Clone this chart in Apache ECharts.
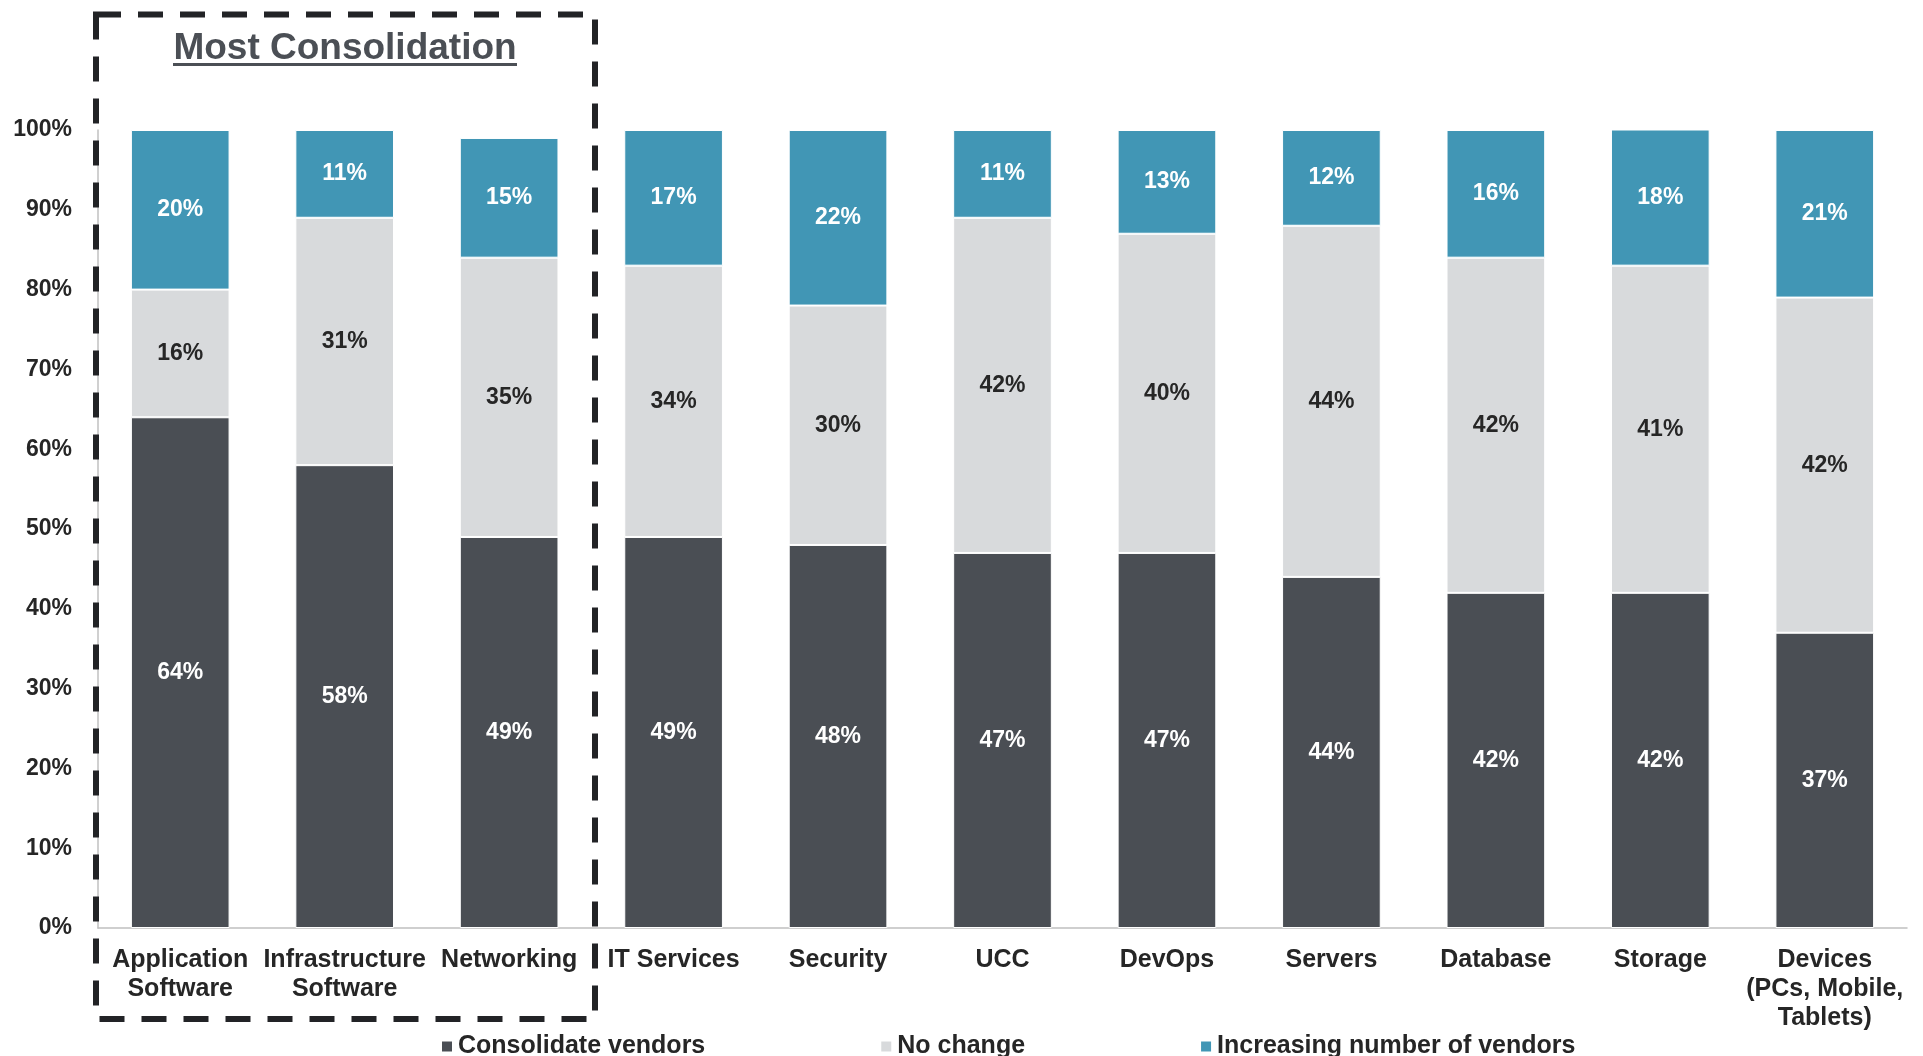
<!DOCTYPE html>
<html>
<head>
<meta charset="utf-8">
<title>Vendor consolidation by category</title>
<script src="https://cdn.jsdelivr.net/npm/echarts@6/dist/echarts.min.js"></script>
<style>
  html, body { margin: 0; padding: 0; background: #ffffff; }
  #chart { width: 1923px; height: 1056px; }
</style>
</head>
<body>
<div id="chart"></div>
<script>
// Spending categories (x axis)
const categories = [
  'Application\nSoftware', 'Infrastructure\nSoftware', 'Networking', 'IT Services',
  'Security', 'UCC', 'DevOps', 'Servers', 'Database', 'Storage',
  'Devices\n(PCs, Mobile,\nTablets)'
];

// Share of respondents (%) per plan
const consolidateVendors = [64, 58, 49, 49, 48, 47, 47, 44, 42, 42, 37];
const noChange           = [16, 31, 35, 34, 30, 42, 40, 44, 42, 41, 42];
const increasingVendors  = [20, 11, 15, 17, 22, 11, 13, 12, 16, 18, 21];

const seriesNames = ['Consolidate vendors', 'No change', 'Increasing number of vendors'];
const titleText = 'Most Consolidation';

const FONT = '"Liberation Sans", Arial, sans-serif';
const DARK = '#4a4e54';
const LIGHT = '#d8dadc';
const BLUE = '#4196b5';
const INK = '#262626';

const chart = echarts.init(document.getElementById('chart'), null, { renderer: 'canvas' });

function barSeries(name, data, color, labelColor) {
  return {
    name: name,
    type: 'bar',
    stack: 'total',
    data: data,
    barCategoryGap: '40%',
    itemStyle: { color: color, borderColor: '#ffffff', borderWidth: 1 },
    label: {
      show: true,
      position: 'inside',
      formatter: '{c}%',
      color: labelColor,
      fontFamily: FONT,
      fontWeight: 'bold',
      fontSize: 23
    },
    emphasis: { disabled: true }
  };
}

chart.setOption({
  animation: false,
  backgroundColor: '#ffffff',
  grid: { left: 98, right: 16, top: 130, bottom: 128, containLabel: false },
  xAxis: {
    type: 'category',
    data: categories,
    axisLine: { show: true, lineStyle: { color: '#c0c0c0', width: 1.5 } },
    axisTick: { show: false },
    axisLabel: {
      interval: 0,
      margin: 18,
      color: INK,
      fontFamily: FONT,
      fontWeight: 'bold',
      fontSize: 25,
      lineHeight: 29
    }
  },
  yAxis: {
    type: 'value',
    min: 0,
    max: 100,
    interval: 10,
    axisLine: { show: true, lineStyle: { color: '#c0c0c0', width: 1.5 } },
    axisTick: { show: false },
    splitLine: { show: false },
    axisLabel: {
      formatter: '{value}%',
      margin: 26,
      color: INK,
      fontFamily: FONT,
      fontWeight: 'bold',
      fontSize: 23
    }
  },
  legend: {
    data: seriesNames,
    left: 440,
    top: 1034,
    padding: 0,
    itemGap: 174,
    itemWidth: 12,
    itemHeight: 12,
    icon: 'rect',
    textStyle: {
      color: INK,
      fontFamily: FONT,
      fontWeight: 'bold',
      fontSize: 25,
      lineHeight: 25,
      padding: [0, 0, 0, 0]
    }
  },
  graphic: [
    {
      // dashed frame around the first three categories
      type: 'rect',
      shape: { x: 96, y: 14.5, width: 499, height: 1004.5 },
      style: { fill: null, stroke: '#222326', lineWidth: 6, lineDash: [25, 17] },
      z: 10
    },
    {
      type: 'text',
      x: 345,
      y: 67,
      style: {
        text: titleText,
        fill: '#4b4f55',
        font: 'bold 37px ' + FONT,
        textAlign: 'center',
        textVerticalAlign: 'bottom'
      },
      z: 10
    },
    {
      // title underline
      type: 'line',
      shape: { x1: 173, y1: 64.5, x2: 517, y2: 64.5 },
      style: { stroke: '#4b4f55', lineWidth: 3 },
      z: 10
    }
  ],
  series: [
    barSeries(seriesNames[0], consolidateVendors, DARK, '#ffffff'),
    barSeries(seriesNames[1], noChange, LIGHT, INK),
    barSeries(seriesNames[2], increasingVendors, BLUE, '#ffffff')
  ]
});
</script>
</body>
</html>
